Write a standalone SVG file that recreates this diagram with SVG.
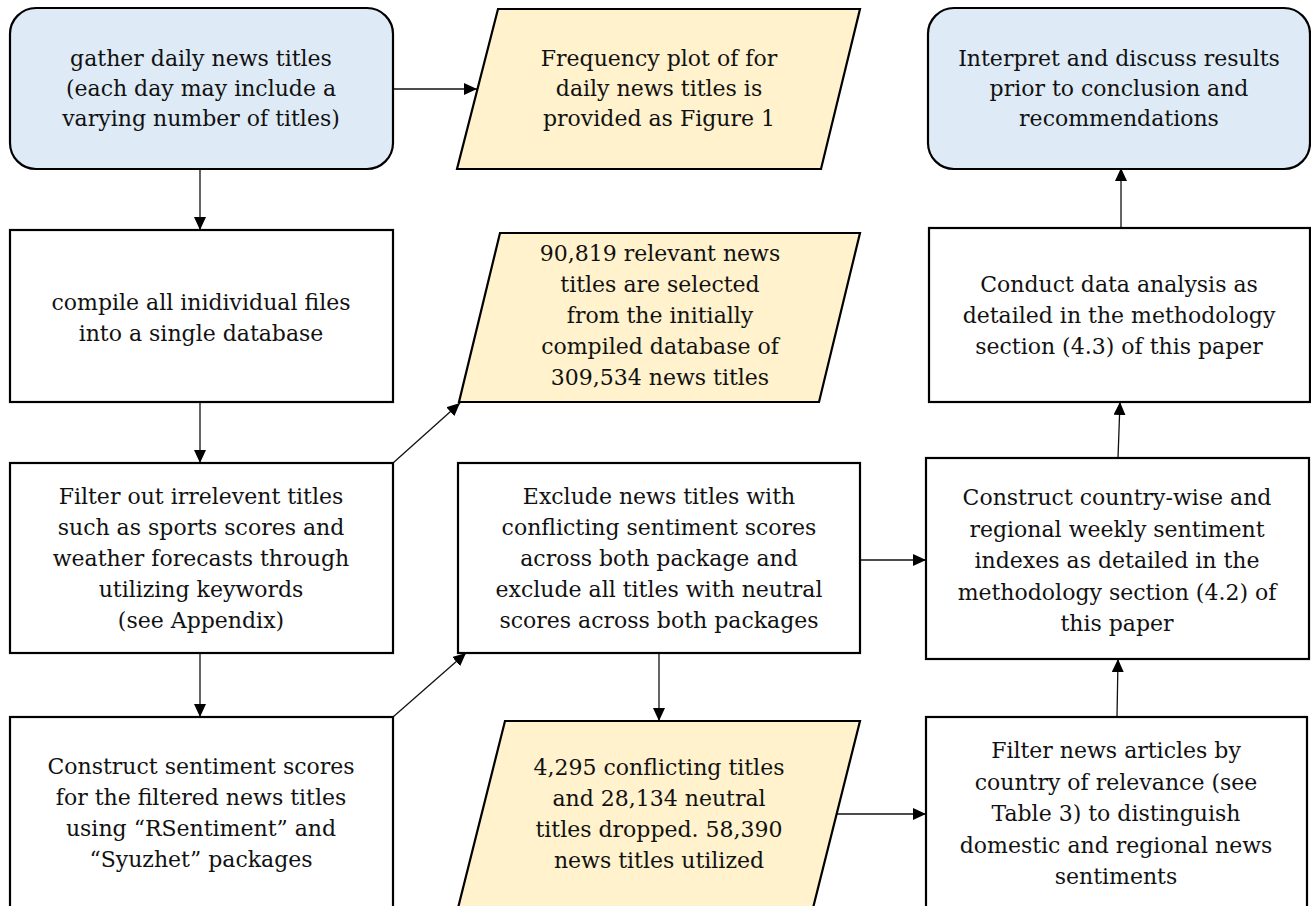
<svg xmlns="http://www.w3.org/2000/svg" width="1311" height="906" viewBox="0 0 1311 906">
<defs>
<marker id="arr" markerUnits="userSpaceOnUse" markerWidth="14" markerHeight="12" refX="13" refY="6" orient="auto">
<path d="M0,0 L13,6 L0,12 z" fill="#000"/>
</marker>
<style>
.term{fill:#DEEBF7;stroke:#000;stroke-width:2.2}
.io{fill:#FFF2CC;stroke:#000;stroke-width:2.2}
.proc{fill:#fff;stroke:#000;stroke-width:2.2}
.t{font-family:"DejaVu Serif","Liberation Serif",serif;font-size:22px;fill:#111;text-anchor:middle}
.c{stroke:#111;stroke-width:1.3;fill:none;marker-end:url(#arr)}
</style>
</defs>
<rect width="1311" height="906" fill="#fff"/>
<g id="connectors">
<path class="c" d="M393,89 L477,89"/>
<path class="c" d="M200,169 L200,230"/>
<path class="c" d="M200,402 L200,463"/>
<path class="c" d="M393,463 L460,403"/>
<path class="c" d="M200,653 L200,717"/>
<path class="c" d="M393,717 L466,653"/>
<path class="c" d="M659,653 L659,721"/>
<path class="c" d="M860,560 L926,560"/>
<path class="c" d="M836,814 L926,814"/>
<path class="c" d="M1117,717 L1118,659"/>
<path class="c" d="M1118,458 L1120,402"/>
<path class="c" d="M1121,228 L1121,168"/>
</g>
<g id="n1">
<rect class="term" x="10" y="8" width="383" height="161" rx="26" ry="26"/>
<text class="t"><tspan x="201" y="66">gather daily news titles</tspan><tspan x="201" y="96">(each day may include a</tspan><tspan x="201" y="126">varying number of titles)</tspan></text>
</g>
<g id="n2">
<polygon class="io" points="498,9 860,9 821,169 457,169"/>
<text class="t"><tspan x="659" y="66">Frequency plot of for</tspan><tspan x="659" y="96">daily news titles is</tspan><tspan x="659" y="126">provided as Figure 1</tspan></text>
</g>
<g id="n3">
<rect class="term" x="928" y="8" width="382" height="161" rx="26" ry="26"/>
<text class="t"><tspan x="1119" y="66">Interpret and discuss results</tspan><tspan x="1119" y="96">prior to conclusion and</tspan><tspan x="1119" y="126">recommendations</tspan></text>
</g>
<g id="n4">
<rect class="proc" x="10" y="230" width="383" height="172"/>
<text class="t"><tspan x="201" y="310">compile all inidividual files</tspan><tspan x="201" y="341">into a single database</tspan></text>
</g>
<g id="n5">
<polygon class="io" points="500,233 860,233 819,402 459,402"/>
<text class="t"><tspan x="660" y="261">90,819 relevant news</tspan><tspan x="660" y="292">titles are selected</tspan><tspan x="660" y="323">from the initially</tspan><tspan x="660" y="354">compiled database of</tspan><tspan x="660" y="385">309,534 news titles</tspan></text>
</g>
<g id="n6">
<rect class="proc" x="929" y="228" width="381" height="174"/>
<text class="t"><tspan x="1119" y="292">Conduct data analysis as</tspan><tspan x="1119" y="323">detailed in the methodology</tspan><tspan x="1119" y="354">section (4.3) of this paper</tspan></text>
</g>
<g id="n7">
<rect class="proc" x="10" y="463" width="383" height="190"/>
<text class="t"><tspan x="201" y="504">Filter out irrelevent titles</tspan><tspan x="201" y="535">such as sports scores and</tspan><tspan x="201" y="566">weather forecasts through</tspan><tspan x="201" y="597">utilizing keywords</tspan><tspan x="201" y="628">(see Appendix)</tspan></text>
</g>
<g id="n8">
<rect class="proc" x="458" y="463" width="402" height="190"/>
<text class="t"><tspan x="659" y="504">Exclude news titles with</tspan><tspan x="659" y="535">conflicting sentiment scores</tspan><tspan x="659" y="566">across both package and</tspan><tspan x="659" y="597">exclude all titles with neutral</tspan><tspan x="659" y="628">scores across both packages</tspan></text>
</g>
<g id="n9">
<rect class="proc" x="926" y="458" width="383" height="201"/>
<text class="t"><tspan x="1117" y="505">Construct country-wise and</tspan><tspan x="1117" y="536.5">regional weekly sentiment</tspan><tspan x="1117" y="568">indexes as detailed in the</tspan><tspan x="1117" y="599.5">methodology section (4.2) of</tspan><tspan x="1117" y="631">this paper</tspan></text>
</g>
<g id="n10">
<rect class="proc" x="10" y="717" width="383" height="200"/>
<text class="t"><tspan x="201" y="774">Construct sentiment scores</tspan><tspan x="201" y="805">for the filtered news titles</tspan><tspan x="201" y="836">using “RSentiment” and</tspan><tspan x="201" y="867">“Syuzhet” packages</tspan></text>
</g>
<g id="n11">
<polygon class="io" points="505,721 860,721 810,920 455,920"/>
<text class="t"><tspan x="659" y="775">4,295 conflicting titles</tspan><tspan x="659" y="806">and 28,134 neutral</tspan><tspan x="659" y="837">titles dropped. 58,390</tspan><tspan x="659" y="868">news titles utilized</tspan></text>
</g>
<g id="n12">
<rect class="proc" x="926" y="717" width="381" height="200"/>
<text class="t"><tspan x="1116" y="758">Filter news articles by</tspan><tspan x="1116" y="789.5">country of relevance (see</tspan><tspan x="1116" y="821">Table 3) to distinguish</tspan><tspan x="1116" y="852.5">domestic and regional news</tspan><tspan x="1116" y="884">sentiments</tspan></text>
</g>
</svg>
